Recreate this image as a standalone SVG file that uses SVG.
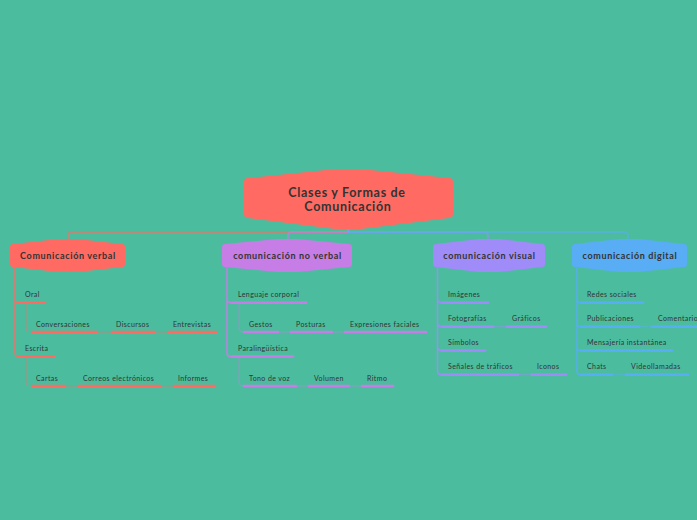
<svg xmlns="http://www.w3.org/2000/svg" width="697" height="520" viewBox="0 0 697 520">
<style>
.t{font-family:"Lato","Liberation Sans",sans-serif;fill:#333333}
.main{font-size:12.5px;font-weight:bold;text-anchor:middle;letter-spacing:0.7px}
.l1{font-size:9px;font-weight:bold;text-anchor:middle;letter-spacing:0.65px}
.l2{font-size:7px;letter-spacing:0.4px}
.ul{fill:none;stroke-width:2.6;stroke-linecap:round}
.br{fill:none;stroke-width:1.4}
.sb{fill:none;stroke-width:1;opacity:0.55}
.top{fill:none;stroke-width:1.8;opacity:0.6}
.r{stroke:#FF6B62}
.p{stroke:#C77DE6}
.v{stroke:#A08CF8}
.b{stroke:#58ADF4}
</style>
<rect width="697" height="520" fill="#4CBC9F"/>
<g id="connectors">
<path class="top r" d="M348,229 V232 H72 Q68,232 68,236 V240"/>
<path class="top p" d="M348,229 V232 H292 Q288,232 288,236 V240"/>
<path class="top v" d="M348,229 V232 H484 Q488,232 488,236 V240"/>
<path class="top b" d="M348,229 V232 H624 Q628,232 628,236 V240"/>
<path class="br r" d="M15,267 V298.7 Q15,302.7 19,302.7 M15,298 V352.5 Q15,356.5 19,356.5"/>
<path class="sb r" d="M26,303.5 V328 Q26,332 30,332 M97,332 H111 M154,332 H168"/>
<path class="sb r" d="M26,357.5 V382 Q26,386 30,386 M65,386 H78 M160,386 H173"/>
<path class="br p" d="M227,268 V298.7 Q227,302.7 231,302.7 M227,298 V352.5 Q227,356.5 231,356.5"/>
<path class="sb p" d="M239,303.5 V328 Q239,332 243,332 M278,332 H291 M332,332 H345"/>
<path class="sb p" d="M239,357.5 V382 Q239,386 243,386 M296,386 H308 M349,386 H362"/>
<path class="br v" d="M437.5,268 V298.7 Q437.5,302.7 441.5,302.7 M437.5,298 V322.7 Q437.5,326.7 441.5,326.7 M437.5,322 V346.5 Q437.5,350.5 441.5,350.5 M437.5,346 V370.7 Q437.5,374.7 441.5,374.7"/>
<path class="sb v" d="M493,326.7 H507 M518,374.7 H532"/>
<path class="br b" d="M577,268 V298.7 Q577,302.7 581,302.7 M577,298 V322.7 Q577,326.7 581,326.7 M577,322 V346.5 Q577,350.5 581,350.5 M577,346 V370.7 Q577,374.7 581,374.7"/>
<path class="sb b" d="M639,326.7 H652 M612,374.7 H626"/>
</g>
<g id="main">
<path d="M248,178 L335,169 L361,169 L449,178 Q453,178 453,182 V214 Q453,218 449,218 L361,229 L335,229 L248,218 Q244,218 244,214 V182 Q244,178 248,178 Z" fill="#FF6B62"/>
<text class="t main" x="347" y="196.5">Clases y Formas de</text>
<text class="t main" x="348" y="211">Comunicación</text>
</g>
<g id="verbal">
<path d="M13,244 L58,239 L78,239 L122,244 Q125,244 125,247 V264 Q125,267 122,267 L78,272 L58,272 L13,267 Q10,267 10,264 V247 Q10,244 13,244 Z" fill="#FF6B62"/>
<text class="t l1" x="68" y="259.3">Comunicación verbal</text>
</g>
<g id="noverbal">
<path d="M225,244 L277,239 L297,239 L349,244 Q352,244 352,247 V264 Q352,267 349,267 L297,272 L277,272 L225,267 Q222,267 222,264 V247 Q222,244 225,244 Z" fill="#C77DE6"/>
<text class="t l1" x="287.5" y="259.3">comunicación no verbal</text>
</g>
<g id="visual">
<path d="M436,244 L479,239 L499,239 L542,244 Q545,244 545,247 V264 Q545,267 542,267 L499,272 L479,272 L436,267 Q433,267 433,264 V247 Q433,244 436,244 Z" fill="#A08CF8"/>
<text class="t l1" x="489.5" y="259.3">comunicación visual</text>
</g>
<g id="digital">
<path d="M575,244 L619,239 L639,239 L684,244 Q687,244 687,247 V264 Q687,267 684,267 L639,272 L619,272 L575,267 Q572,267 572,264 V247 Q572,244 575,244 Z" fill="#58ADF4"/>
<text class="t l1" x="630" y="259.3">comunicación digital</text>
</g>
<g id="oral"><path class="ul r" d="M20,302.7 H45"/><text class="t l2" x="25" y="297.2">Oral</text></g>
<g id="conversaciones"><path class="ul r" d="M32,332 H97"/><text class="t l2" x="36" y="326.5">Conversaciones</text></g>
<g id="discursos"><path class="ul r" d="M112,332 H154"/><text class="t l2" x="116" y="326.5">Discursos</text></g>
<g id="entrevistas"><path class="ul r" d="M169,332 H216"/><text class="t l2" x="173" y="326.5">Entrevistas</text></g>
<g id="escrita"><path class="ul r" d="M20,356.5 H54"/><text class="t l2" x="25" y="351">Escrita</text></g>
<g id="cartas"><path class="ul r" d="M32,386 H65"/><text class="t l2" x="36" y="380.5">Cartas</text></g>
<g id="correos"><path class="ul r" d="M79,386 H160"/><text class="t l2" x="83" y="380.5">Correos electrónicos</text></g>
<g id="informes"><path class="ul r" d="M174,386 H215"/><text class="t l2" x="178" y="380.5">Informes</text></g>
<g id="lenguaje"><path class="ul p" d="M232,302.7 H306"/><text class="t l2" x="238" y="297.2">Lenguaje corporal</text></g>
<g id="gestos"><path class="ul p" d="M244,332 H278"/><text class="t l2" x="249" y="326.5">Gestos</text></g>
<g id="posturas"><path class="ul p" d="M291,332 H332"/><text class="t l2" x="296" y="326.5">Posturas</text></g>
<g id="expresiones"><path class="ul p" d="M345,332 H426"/><text class="t l2" x="350" y="326.5">Expresiones faciales</text></g>
<g id="paralinguistica"><path class="ul p" d="M232,356.5 H293"/><text class="t l2" x="238" y="351">Paralingüística</text></g>
<g id="tono"><path class="ul p" d="M244,386 H296"/><text class="t l2" x="249" y="380.5">Tono de voz</text></g>
<g id="volumen"><path class="ul p" d="M309,386 H349"/><text class="t l2" x="314" y="380.5">Volumen</text></g>
<g id="ritmo"><path class="ul p" d="M362,386 H393"/><text class="t l2" x="367" y="380.5">Ritmo</text></g>
<g id="imagenes"><path class="ul v" d="M442,302.7 H488"/><text class="t l2" x="448" y="297.2">Imágenes</text></g>
<g id="fotografias"><path class="ul v" d="M442,326.7 H493"/><text class="t l2" x="448" y="321.2">Fotografías</text></g>
<g id="graficos"><path class="ul v" d="M507,326.7 H546"/><text class="t l2" x="512" y="321.2">Gráficos</text></g>
<g id="simbolos"><path class="ul v" d="M442,350.5 H485"/><text class="t l2" x="448" y="345">Símbolos</text></g>
<g id="senales"><path class="ul v" d="M442,374.7 H518"/><text class="t l2" x="448" y="369.2">Señales de tráficos</text></g>
<g id="iconos"><path class="ul v" d="M532,374.7 H566"/><text class="t l2" x="537" y="369.2">Iconos</text></g>
<g id="redes"><path class="ul b" d="M581,302.7 H643"/><text class="t l2" x="587" y="297.2">Redes sociales</text></g>
<g id="publicaciones"><path class="ul b" d="M581,326.7 H639"/><text class="t l2" x="587" y="321.2">Publicaciones</text></g>
<g id="comentarios"><path class="ul b" d="M652,326.7 H702"/><text class="t l2" x="658" y="321.2">Comentarios</text></g>
<g id="mensajeria"><path class="ul b" d="M581,350.5 H672"/><text class="t l2" x="587" y="345">Mensajería instantánea</text></g>
<g id="chats"><path class="ul b" d="M581,374.7 H612"/><text class="t l2" x="587" y="369.2">Chats</text></g>
<g id="videollamadas"><path class="ul b" d="M626,374.7 H688"/><text class="t l2" x="631" y="369.2">Videollamadas</text></g>
</svg>
